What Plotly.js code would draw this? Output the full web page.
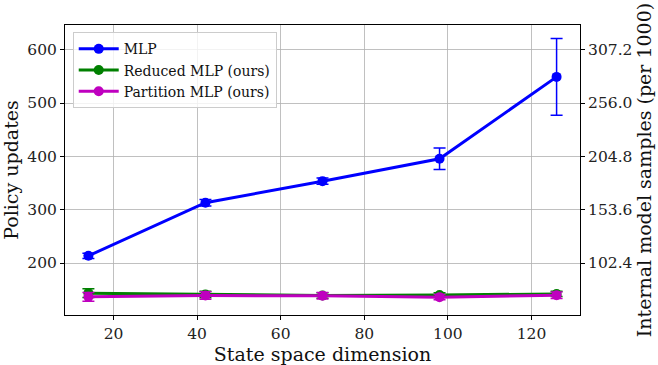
<!DOCTYPE html>
<html><head><meta charset="utf-8">
<script src="https://cdn.plot.ly/plotly-3.0.1.min.js"></script>
<style>body{margin:0;padding:0;background:#fff}#c{width:658px;height:365px}</style>
</head><body><div id="c"></div>
<script>
const dims = [14, 42, 70, 98, 126];
const mlp = [213.5, 313, 353.5, 395.5, 549];
const mlpErr = [5, 6, 6, 20, 72];
const reduced = [143.5, 141, 139, 140, 142];
const reducedErr = [8, 6, 5, 4, 5];
const partition = [136.5, 139, 138.5, 136, 139.5];
const partitionErr = [8, 7, 6, 5, 6];
const rightTicks = [102.4, 153.6, 204.8, 256.0, 307.2];
const rightScale = 0.512;

function tr(name, y, err, color){
  return {x: dims, y: y, name: name, type:'scatter', mode:'lines+markers',
    line:{color:color, width:3}, marker:{color:color, size:10},
    error_y:{type:'data', array: err, visible:true, color:color, thickness:1.5, width:6}};
}
const yr = [102.5, 646.3];
const data = [
  tr('MLP', mlp, mlpErr, '#0000ff'),
  tr('Reduced MLP (ours)', reduced, reducedErr, '#008000'),
  tr('Partition MLP (ours)', partition, partitionErr, '#bf00bf'),
  {x: dims, y: mlp.map(v=>v*rightScale), yaxis:'y2', mode:'lines', line:{width:0, color:'rgba(0,0,0,0)'}, showlegend:false, hoverinfo:'skip'}
];
const tf = {family:'DejaVu Serif', size:19, color:'#111'};
const layout = {
  width:658, height:365, margin:{l:65, r:78, t:25, b:50},
  paper_bgcolor:'#fff', plot_bgcolor:'#fff', font: {family:'DejaVu Serif', color:'#222', size:15.5},
  xaxis:{range:[8.4,131.6], tickvals:[20,40,60,80,100,120], showgrid:true, gridcolor:'#b0b0b0', gridwidth:0.8,
    showline:true, linecolor:'#000', linewidth:1, mirror:true, ticks:'outside', ticklen:4, tickcolor:'#000',
    zeroline:false, title:{text:'State space dimension', font:tf, standoff:4}},
  yaxis:{range:yr, tickvals:[200,300,400,500,600], showgrid:true, gridcolor:'#b0b0b0', gridwidth:0.8,
    showline:true, linecolor:'#000', linewidth:1, mirror:true, ticks:'outside', ticklen:4, tickcolor:'#000',
    zeroline:false, title:{text:'Policy updates', font:tf, standoff:6}},
  yaxis2:{overlaying:'y', side:'right', range:[yr[0]*rightScale, yr[1]*rightScale], tickvals: rightTicks,
    ticktext: rightTicks.map(v=>v.toFixed(1)), showgrid:false, zeroline:false, ticks:'outside', ticklen:4, tickcolor:'#000',
    showline:false, title:{text:'Internal model samples (per 1000)', font:tf, standoff:6}},
  legend:{x:0.015, y:0.975, xanchor:'left', yanchor:'top', bgcolor:'rgba(255,255,255,0.8)', bordercolor:'#ccc', borderwidth:1,
    font:{family:'DejaVu Serif', size:14, color:'#111'}, tracegroupgap:0, itemwidth:40},
  showlegend:true
};
Plotly.newPlot('c', data, layout, {displayModeBar:false, staticPlot:true});
</script></body></html>
